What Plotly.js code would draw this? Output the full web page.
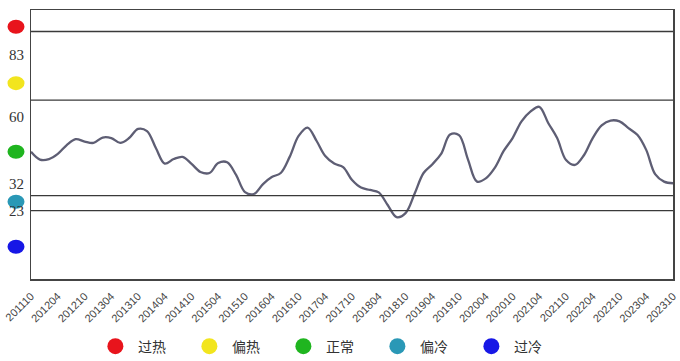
<!DOCTYPE html>
<html>
<head>
<meta charset="utf-8">
<script src="https://cdn.plot.ly/plotly-3.0.1.min.js"></script>
<style>
  html, body { margin: 0; padding: 0; background: #fff; }
  #chart { width: 680px; height: 361px; }
</style>
</head>
<body>
<div id="chart"></div>
<script>
// ---- data ----
var startMonth = "2011-10";      // first observation
var stepMonths = 2;              // spacing between readings
var indexValues = [
  47.3, 44.4, 44.6, 46.5, 49.8, 52.0, 51.1, 50.6, 52.6, 52.4,
  50.6, 52.4, 55.8, 55.0, 48.5, 42.9, 44.6, 45.4, 42.8, 39.8,
  39.4, 43.1, 43.4, 38.7, 32.3, 31.6, 35.3, 37.9, 39.4, 45.4,
  53.2, 56.3, 51.3, 45.7, 42.9, 41.6, 36.8, 34.0, 33.1, 32.2,
  27.5, 23.0, 24.5, 31.6, 39.4, 42.6, 46.5, 53.7, 53.5, 44.5,
  36.2, 37.4, 41.3, 47.6, 52.4, 58.6, 62.3, 64.0, 58.0, 52.4,
  44.2, 42.4, 46.1, 52.4, 57.1, 58.9, 58.6, 56.1, 53.5, 48.0,
  39.0, 36.2, 35.6
];
var thresholdLines = [92.0, 66.5, 31.0, 25.4];   // band boundaries (index scale)
var levelLabels = ["83", "60", "32", "23"];
var levelLabelPos = [83.3, 60.2, 35.3, 25.3];
var zoneNames = ["过热", "偏热", "正常", "偏冷", "过冷"];
var zoneColors = ["#e8141c", "#f2e51e", "#1fb51f", "#2a98b6", "#1717e6"];
var zoneDotPos = [93.8, 72.8, 47.3, 28.7, 12.0];

// ---- build x dates ----
function addMonths(ym, k) {
  var y = parseInt(ym.slice(0, 4), 10), m = parseInt(ym.slice(5, 7), 10) - 1 + k;
  y += Math.floor(m / 12); m = m % 12;
  return y + "-" + String(m + 1).padStart(2, "0") + "-01";
}
var xDates = indexValues.map(function (_, i) { return addMonths(startMonth, i * stepMonths); });

var traces = [{
  x: xDates, y: indexValues, type: "scatter", mode: "lines",
  line: { color: "#5e5e74", width: 2.3, shape: "spline", smoothing: 1 },
  showlegend: false, hoverinfo: "skip"
}];
zoneNames.forEach(function (n, i) {
  traces.push({
    x: [null], y: [null], type: "scatter", mode: "markers", name: n,
    marker: { color: zoneColors[i], size: 18, line: { width: 0 } }
  });
});

var shapes = [];
thresholdLines.forEach(function (v) {
  shapes.push({ type: "line", xref: "paper", yref: "y", x0: 0, x1: 1, y0: v, y1: v,
    line: { color: "#3a3a3a", width: 1.3 } });
});
// plot-area geometry for placing side markers
var L = 31, W = 642;
function px2paper(px) { return (px - L) / W; }
zoneDotPos.forEach(function (v, i) {
  var yc = v / 100;
  shapes.push({ type: "circle", xref: "paper", yref: "paper",
    x0: px2paper(7.5), x1: px2paper(24.5), y0: yc - 7 / 269, y1: yc + 7 / 269,
    fillcolor: zoneColors[i], line: { width: 0 } });
});

var annotations = levelLabels.map(function (t, i) {
  return { text: t, xref: "paper", yref: "paper", x: px2paper(16), y: levelLabelPos[i] / 100,
    xanchor: "center", yanchor: "middle", showarrow: false,
    font: { family: "Liberation Serif, serif", size: 15, color: "#333" } };
});

var layout = {
  width: 680, height: 361,
  margin: { l: 31, r: 7, t: 10, b: 82 },
  paper_bgcolor: "#fff", plot_bgcolor: "#fff",
  showlegend: true,
  legend: {
    orientation: "h", xref: "container", yref: "container",
    x: 0.1366, y: 0.04, xanchor: "left", yanchor: "middle",
    entrywidth: 44, itemwidth: 35,
    font: { family: "Noto Sans CJK SC, sans-serif", size: 14, color: "#333" }
  },
  xaxis: {
    type: "date", range: ["2011-10-01", "2023-10-01"],
    tick0: "2011-10-01", dtick: "M6", tickformat: "%Y%m", tickangle: -45,
    ticks: "", ticklabelstandoff: 5, showgrid: false, zeroline: false,
    showline: true, mirror: true, linecolor: "#444", linewidth: 1.5,
    tickfont: { family: "Liberation Sans, Arial, sans-serif", size: 11, color: "#444" }
  },
  yaxis: {
    range: [0, 100], showticklabels: false, ticks: "", showgrid: false, zeroline: false,
    showline: true, mirror: true, linecolor: "#444", linewidth: 1.5
  },
  shapes: shapes,
  annotations: annotations,
  hovermode: false
};

Plotly.newPlot("chart", traces, layout, { displayModeBar: false, staticPlot: true });
</script>
</body>
</html>
